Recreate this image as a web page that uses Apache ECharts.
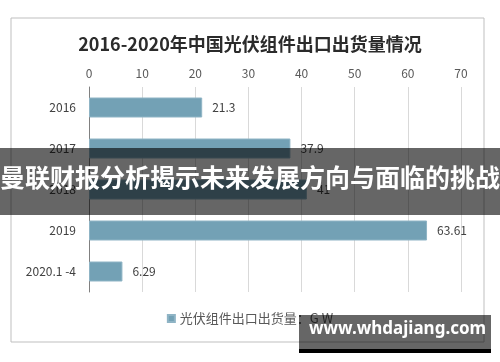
<!DOCTYPE html>
<html><head><meta charset="utf-8">
<script src="https://cdn.jsdelivr.net/npm/echarts@6/dist/echarts.min.js"></script>
<style>html,body{margin:0;padding:0;background:#fff}#c{width:500px;height:362px}</style>
</head><body><div id="c"></div>
<script>
const categories = ['2016', '2017', '2018', '2019', '2020.1 -4'];
const values = [21.3, 37.9, 41.0, 63.61, 6.29];
const xTicks = [0, 10, 20, 30, 40, 50, 60, 70];
const seriesName = '光伏组件出口出货量：G W';
const titleText = '2016-2020年中国光伏组件出口出货量情况';
const bannerText = '曼联财报分析揭示未来发展方向与面临的挑战';
const watermarkText = 'www.whdajiang.com';

const chart = echarts.init(document.getElementById('c'));
const font = '"Noto Sans CJK SC", "Noto Sans", sans-serif';
chart.setOption({
  animation: false,
  textStyle: { fontFamily: font },
  title: { text: titleText, left: 'center', top: 30,
    textStyle: { fontSize: 18, fontWeight: 'bold', color: '#2b2b2b', fontFamily: font } },
  grid: { left: 89, right: 39, top: 87, bottom: 70 },
  legend: { bottom: 32, left: 'center', icon: 'rect', itemWidth: 7, itemHeight: 7, itemGap: 4,
    textStyle: { fontSize: 13, color: '#595959', fontFamily: font } },
  xAxis: { type: 'value', position: 'top', min: xTicks[0], max: xTicks[xTicks.length - 1], interval: 10,
    axisLine: { show: false }, axisTick: { show: false },
    axisLabel: { color: '#595959', fontSize: 12, margin: 8 },
    splitLine: { lineStyle: { color: '#d9d9d9' } } },
  yAxis: { type: 'category', data: categories, inverse: true,
    axisLine: { lineStyle: { color: '#808080' } }, axisTick: { show: false },
    axisLabel: { color: '#404040', fontSize: 12, margin: 13 } },
  series: [{ name: seriesName, type: 'bar', data: values, barWidth: 20,
    itemStyle: { color: '#73a1b5', borderColor: '#8fb4c5', borderWidth: 1 },
    label: { show: true, position: 'right', distance: 10, color: '#404040', fontSize: 12 } }],
  graphic: [
    { type: 'rect', shape: { x: 11, y: 18, width: 473, height: 324 }, style: { fill: 'none', stroke: '#bfbfbf', lineWidth: 1 }, z: 0, silent: true },
    { type: 'rect', shape: { x: 0, y: 148, width: 500, height: 67 }, style: { fill: 'rgba(0,0,0,0.6)' }, z: 100 },
    { type: 'text', left: 'center', top: 165, style: { text: bannerText, fill: '#fff', font: 'bold 25px "Noto Sans CJK SC", sans-serif' }, z: 101 },
    { type: 'rect', shape: { x: 299, y: 315, width: 192, height: 34 }, style: { fill: 'rgba(0,0,0,0.6)' }, z: 100 },
    { type: 'rect', shape: { x: 299, y: 349, width: 192, height: 4 }, style: { fill: '#000' }, z: 100 },
    { type: 'text', x: 309, y: 321, style: { text: watermarkText, fill: '#fff', font: 'bold 17px "Noto Sans", "DejaVu Sans", sans-serif' }, z: 101 }
  ]
});
</script></body></html>
